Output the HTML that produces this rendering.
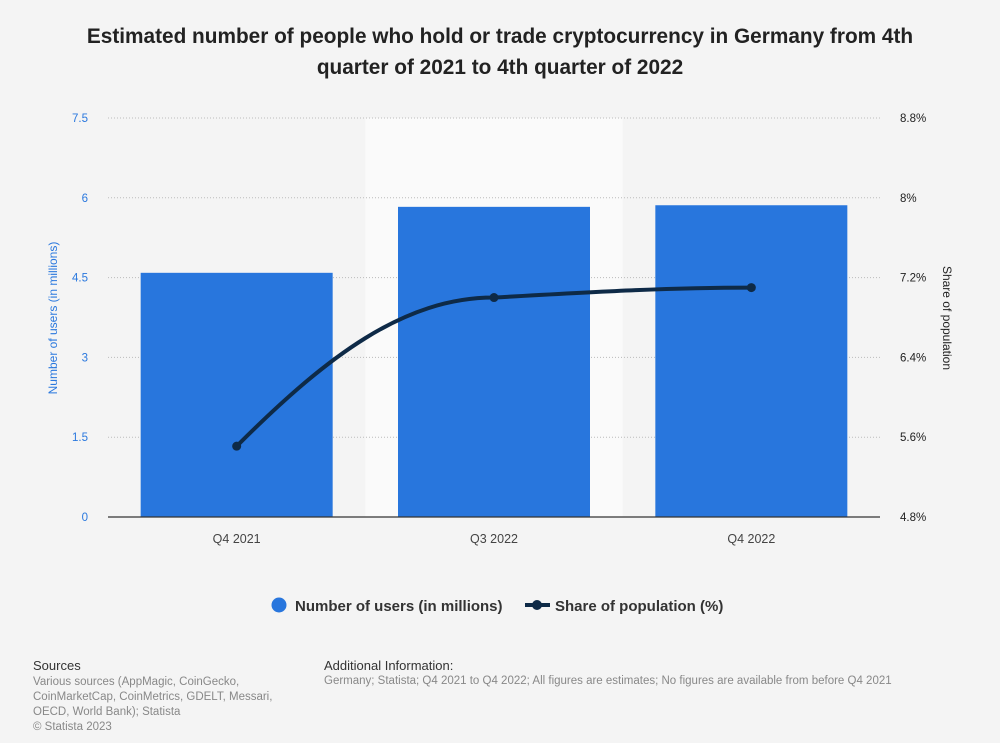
<!DOCTYPE html>
<html><head><meta charset="utf-8"><style>
body{margin:0;background:#f4f4f4;font-family:"Liberation Sans",Arial,sans-serif;}
#wrap{position:relative;width:1000px;height:743px;}
.t{position:absolute;}
</style></head><body>
<div id="wrap">
<div class="t" style="left:0px;top:21px;width:1000px;text-align:center;font-size:20.8px;font-weight:bold;color:#222;line-height:31px;">Estimated number of people who hold or trade cryptocurrency in Germany from 4th<br>quarter of 2021 to 4th quarter of 2022</div>
<svg id="chart" width="1000" height="743" style="position:absolute;left:0;top:0"></svg>
<div class="t" style="left:33px;top:658px;font-size:13px;color:#333;">Sources</div>
<div class="t" style="left:33px;top:675px;font-size:11.5px;color:#888;line-height:15px;width:270px;">Various sources (AppMagic, CoinGecko, CoinMarketCap, CoinMetrics, GDELT, Messari, OECD, World Bank); Statista<br>© Statista 2023</div>
<div class="t" style="left:324px;top:658px;font-size:13px;color:#333;">Additional Information:</div>
<div class="t" style="left:324px;top:675px;font-size:11.5px;color:#888;">Germany; Statista; Q4 2021 to Q4 2022; All figures are estimates; No figures are available from before Q4 2021</div>
</div>
<script>
const categories=["Q4 2021","Q3 2022","Q4 2022"];
const users=[4.59,5.83,5.86];
const share=[5.51,7.0,7.1];
const leftTicks=[0,1.5,3,4.5,6,7.5];
const rightTicks=[4.8,5.6,6.4,7.2,8,8.8];
const rightLabels=["4.8%","5.6%","6.4%","7.2%","8%","8.8%"];
const NS="http://www.w3.org/2000/svg";
const svg=document.getElementById('chart');
const X0=108,X1=880,Y0=517,Y1=118;
const yL=v=>Y0-(v/7.5)*(Y0-Y1);
const yR=v=>Y0-((v-4.8)/4)*(Y0-Y1);
const bw=(X1-X0)/categories.length;
const xc=i=>X0+bw*(i+0.5);
function mk(t,a){const e=document.createElementNS(NS,t);for(const k in a)e.setAttribute(k,a[k]);svg.appendChild(e);return e;}
let hb=mk('rect',{x:X0+bw,y:Y1,width:bw,height:Y0-Y1,fill:'#fafafa'});


leftTicks.forEach((v,i)=>{
 if(i>0){let g=mk('line',{x1:X0,x2:X1,y1:yL(v),y2:yL(v),stroke:'#bbb','stroke-dasharray':'1,2'});
 
 }
 let t=mk('text',{x:88,y:yL(v)+4,'text-anchor':'end','font-size':11.5,fill:'#2a78de'});t.textContent=v;
 
 
});
rightTicks.forEach((v,i)=>{
 let t=mk('text',{x:900,y:yR(v)+4,'font-size':11.5,fill:'#222'});t.textContent=rightLabels[i];
 
 
});
categories.forEach((c,i)=>{
 let b=mk('rect',{x:xc(i)-96,y:yL(users[i]),width:192,height:Y0-yL(users[i]),fill:'#2876dd'});
 
 
 let t=mk('text',{x:xc(i),y:543,'text-anchor':'middle','font-size':12.5,fill:'#444'});t.textContent=c;
 
 
});
let ax=mk('line',{x1:X0,x2:X1,y1:Y0,y2:Y0,stroke:'#333','stroke-width':1.2});


const pts=share.map((v,i)=>[xc(i),yR(v)]);
const d='M'+pts[0].join(',')+` C${pts[0][0]+90},${pts[0][1]-90} ${pts[1][0]-90},${pts[1][1]} ${pts[1][0]},${pts[1][1]} C${pts[1][0]+90},${pts[1][1]-5} ${pts[2][0]-90},${pts[2][1]} ${pts[2][0]},${pts[2][1]}`;
let ln=mk('path',{d:d,fill:'none',stroke:'#0e2a47','stroke-width':4});


pts.forEach(p=>{let c=mk('circle',{cx:p[0],cy:p[1],r:4.5,fill:'#0e2a47'});
 
 });
let yl=mk('text',{x:0,y:0,transform:'translate(57,318) rotate(-90)','text-anchor':'middle','font-size':12,fill:'#2a78de'});yl.textContent='Number of users (in millions)';


let yr=mk('text',{x:0,y:0,transform:'translate(943,318) rotate(90)','text-anchor':'middle','font-size':12,fill:'#222'});yr.textContent='Share of population';


let lc=mk('circle',{cx:279,cy:605,r:7.5,fill:'#2876dd'});


let lt=mk('text',{x:295,y:611,'font-size':15,'font-weight':'bold',fill:'#333'});lt.textContent='Number of users (in millions)';


let ll=mk('line',{x1:525,x2:550,y1:605,y2:605,stroke:'#0e2a47','stroke-width':4});


let lp=mk('circle',{cx:537,cy:605,r:5,fill:'#0e2a47'});


let lt2=mk('text',{x:555,y:611,'font-size':15,'font-weight':'bold',fill:'#333'});lt2.textContent='Share of population (%)';


</script>
</body></html>
